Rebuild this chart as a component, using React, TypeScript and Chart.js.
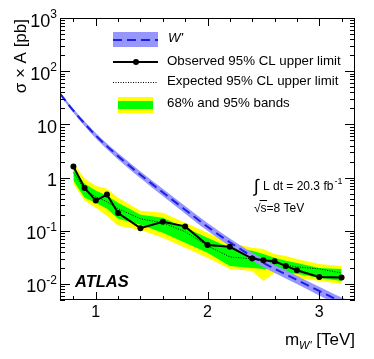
import React, { useEffect, useRef } from 'react';
import { Chart, registerables } from 'chart.js';
Chart.register(...registerables);

// ---- data ----
const massPoints = [0.8, 0.9, 1.0, 1.1, 1.2, 1.4, 1.6, 1.8, 2.0, 2.2, 2.4, 2.5, 2.6, 2.7, 2.8, 3.0, 3.2];
const observed = [1.61, 0.64, 0.37, 0.48, 0.216, 0.112, 0.148, 0.121, 0.054, 0.05, 0.03, 0.028, 0.0268, 0.0219, 0.0181, 0.0136, 0.0132];
const expected = [1.24, 0.594, 0.438, 0.352, 0.26, 0.168, 0.1416, 0.0958, 0.0521, 0.0323, 0.0296, 0.0284, 0.0249, 0.0228, 0.021, 0.0192, 0.0161];
const band68Up = [1.48, 0.77, 0.569, 0.457, 0.337, 0.2, 0.176, 0.114, 0.0738, 0.0478, 0.042, 0.0368, 0.031, 0.0272, 0.0249, 0.02, 0.0192];
const band68Down = [0.877, 0.42, 0.337, 0.26, 0.168, 0.13, 0.0917, 0.0594, 0.0385, 0.0219, 0.02, 0.0192, 0.0192, 0.0161, 0.0155, 0.013, 0.0114];
const band95Up = [1.84, 0.957, 0.706, 0.62, 0.42, 0.238, 0.219, 0.1416, 0.0917, 0.0594, 0.0478, 0.0457, 0.0368, 0.0337, 0.0296, 0.0238, 0.0219];
const band95Down = [0.77, 0.368, 0.272, 0.192, 0.124, 0.104, 0.0738, 0.0478, 0.031, 0.0192, 0.0176, 0.0114, 0.0161, 0.0142, 0.013, 0.0114, 0.01];

const theoryMass = [0.68, 0.8, 1.0, 1.25, 1.5, 1.75, 2.0, 2.25, 2.5, 2.75, 3.0, 3.2, 3.3];
const theory = [37.9, 18.1, 6.2, 2.05, 0.77, 0.3, 0.119, 0.052, 0.0249, 0.0135, 0.0074, 0.0046, 0.0038];
const theoryUp = [40.5, 19.6, 6.9, 2.35, 0.89, 0.35, 0.14, 0.061, 0.0295, 0.0161, 0.0089, 0.0056, 0.0047];
const theoryDown = [35.3, 16.6, 5.5, 1.78, 0.66, 0.255, 0.1, 0.044, 0.0208, 0.0112, 0.0061, 0.0037, 0.003];

const xMajorTicks = [1, 2, 3];
const xMinorTicks = [0.8, 1.2, 1.4, 1.6, 1.8, 2.2, 2.4, 2.6, 2.8, 3.2];
const yDecades = [-2, -1, 0, 1, 2, 3];
const yLabels = [
  { base: '10', exp: '-2' },
  { base: '10', exp: '-1' },
  { base: '1', exp: '' },
  { base: '10', exp: '' },
  { base: '10', exp: '2' },
  { base: '10', exp: '3' },
];

const FONT = '"Liberation Sans", Arial, Helvetica, sans-serif';
const BLUE = 'rgb(30,30,235)';
const BLUE_BAND = 'rgb(150,150,252)';
const YELLOW = '#ffff00';
const GREEN = '#00ff00';

const pts = (xs: number[], ys: number[]) => xs.map((x, i) => ({ x, y: ys[i] }));

const decorPlugin = {
  id: 'atlasDecor',
  afterDraw(chart: any) {
    const ctx: CanvasRenderingContext2D = chart.ctx;
    const { left, right, top, bottom } = chart.chartArea;
    const xs = chart.scales.x;
    const ys = chart.scales.y;
    ctx.save();
    // frame
    ctx.strokeStyle = '#000';
    ctx.lineWidth = 1;
    ctx.strokeRect(left + 0.5, top + 0.5, right - left - 1, bottom - top - 1);
    // x ticks
    ctx.beginPath();
    const xt = (v: number, len: number) => {
      const p = Math.round(xs.getPixelForValue(v)) + 0.5;
      ctx.moveTo(p, bottom);
      ctx.lineTo(p, bottom - len);
      ctx.moveTo(p, top);
      ctx.lineTo(p, top + len);
    };
    xMajorTicks.forEach((v) => xt(v, 8));
    xMinorTicks.forEach((v) => xt(v, 4));
    const yt = (v: number, len: number) => {
      const p = Math.round(ys.getPixelForValue(v)) + 0.5;
      if (p < top - 0.5 || p > bottom + 0.5) return;
      ctx.moveTo(left, p);
      ctx.lineTo(left + len, p);
      ctx.moveTo(right, p);
      ctx.lineTo(right - len, p);
    };
    for (let d = -3; d <= 3; d++) {
      yt(Math.pow(10, d), 10);
      for (let k = 2; k <= 9; k++) yt(k * Math.pow(10, d), 5);
    }
    ctx.stroke();

    // y labels
    ctx.fillStyle = '#000';
    yDecades.forEach((d, i) => {
      const p = ys.getPixelForValue(Math.pow(10, d));
      const lab = yLabels[i];
      ctx.font = `18px ${FONT}`;
      const bw = ctx.measureText(lab.base).width;
      let ew = 0;
      if (lab.exp) {
        ctx.font = `12px ${FONT}`;
        ew = ctx.measureText(lab.exp).width;
      }
      const xr = 57;
      ctx.textAlign = 'left';
      ctx.textBaseline = 'alphabetic';
      ctx.font = `18px ${FONT}`;
      ctx.fillText(lab.base, xr - ew - bw, p + 8.5);
      if (lab.exp) {
        ctx.font = `12px ${FONT}`;
        ctx.fillText(lab.exp, xr - ew, p + 0);
      }
    });
    // x labels
    ctx.font = `16px ${FONT}`;
    ctx.textAlign = 'center';
    ctx.textBaseline = 'alphabetic';
    xMajorTicks.forEach((v) => {
      ctx.fillText(String(v), xs.getPixelForValue(v), 317);
    });

    // x title: m_W' [TeV]
    {
      ctx.textAlign = 'left';
      ctx.font = `17px ${FONT}`;
      const w1 = ctx.measureText('m').width;
      const w3 = ctx.measureText(' [TeV]').width;
      ctx.font = `italic 11px ${FONT}`;
      const w2 = ctx.measureText("W'").width;
      let x0 = right - (w1 + w2 + w3);
      const yb = 345;
      ctx.font = `17px ${FONT}`;
      ctx.fillText('m', x0, yb);
      ctx.font = `italic 11px ${FONT}`;
      ctx.fillText("W'", x0 + w1, yb + 4);
      ctx.font = `17px ${FONT}`;
      ctx.fillText(' [TeV]', x0 + w1 + w2, yb);
    }
    // y title
    ctx.save();
    ctx.translate(25.5, 19);
    ctx.rotate(-Math.PI / 2);
    ctx.font = `17px ${FONT}`;
    ctx.textAlign = 'right';
    ctx.textBaseline = 'alphabetic';
    ctx.fillText('σ × A [pb]', 0, 0);
    ctx.restore();

    // legend
    ctx.textAlign = 'left';
    ctx.textBaseline = 'middle';
    // W'
    ctx.fillStyle = BLUE_BAND;
    ctx.fillRect(113, 32, 45, 15);
    ctx.strokeStyle = BLUE;
    ctx.lineWidth = 2;
    ctx.setLineDash([9, 5]);
    ctx.beginPath();
    ctx.moveTo(113, 40);
    ctx.lineTo(158, 40);
    ctx.stroke();
    ctx.setLineDash([]);
    ctx.fillStyle = '#000';
    ctx.font = `italic 13.3px ${FONT}`;
    ctx.fillText("W'", 168, 38);
    // observed
    ctx.strokeStyle = '#000';
    ctx.lineWidth = 2;
    ctx.beginPath();
    ctx.moveTo(113, 62);
    ctx.lineTo(158, 62);
    ctx.stroke();
    ctx.beginPath();
    ctx.arc(136, 62, 3, 0, Math.PI * 2);
    ctx.fill();
    ctx.font = `13.3px ${FONT}`;
    ctx.fillText('Observed 95% CL upper limit', 167, 61);
    // expected
    ctx.lineWidth = 1;
    ctx.setLineDash([1, 1.5]);
    ctx.beginPath();
    ctx.moveTo(113, 82.5);
    ctx.lineTo(158, 82.5);
    ctx.stroke();
    ctx.setLineDash([]);
    ctx.fillText('Expected 95% CL upper limit', 167, 81.5);
    // bands
    ctx.fillStyle = YELLOW;
    ctx.fillRect(118, 97, 35, 16);
    ctx.fillStyle = GREEN;
    ctx.fillRect(118, 101, 35, 8);
    ctx.fillStyle = '#000';
    ctx.fillText('68% and 95% bands', 167, 103.5);

    // luminosity annotation
    ctx.textBaseline = 'alphabetic';
    ctx.font = `18px ${FONT}`;
    ctx.fillText('∫', 254, 192);
    ctx.font = `12px ${FONT}`;
    const lumi = 'L dt = 20.3 fb';
    ctx.fillText(lumi, 263, 190);
    const lw = ctx.measureText(lumi).width;
    ctx.font = `9px ${FONT}`;
    ctx.fillText('-1', 263 + lw + 1, 184);
    // sqrt(s)
    ctx.font = `12px ${FONT}`;
    ctx.fillText('√', 254, 212);
    const rw = ctx.measureText('√').width;
    const sw = ctx.measureText('s').width;
    ctx.fillText('s=8 TeV', 254 + rw, 212);
    ctx.lineWidth = 1;
    ctx.beginPath();
    ctx.moveTo(254 + rw - 1, 200.5);
    ctx.lineTo(254 + rw + sw + 0.5, 200.5);
    ctx.stroke();

    // ATLAS
    ctx.font = `bold italic 16.5px ${FONT}`;
    ctx.fillText('ATLAS', 75, 287);
    ctx.restore();
  },
};

export default function App() {
  const ref = useRef<HTMLCanvasElement | null>(null);
  useEffect(() => {
    if (!ref.current) return;
    const hidden = { pointRadius: 0, borderWidth: 0, borderColor: 'transparent', tension: 0 };
    const chart = new Chart(ref.current, {
      type: 'line',
      data: {
        datasets: [
          { label: '95up', data: pts(massPoints, band95Up), fill: 1, backgroundColor: YELLOW, order: 10, ...hidden },
          { label: '95down', data: pts(massPoints, band95Down), fill: false, order: 10, ...hidden },
          { label: '68up', data: pts(massPoints, band68Up), fill: 3, backgroundColor: GREEN, order: 8, ...hidden },
          { label: '68down', data: pts(massPoints, band68Down), fill: false, order: 8, ...hidden },
          { label: 'thUp', data: pts(theoryMass, theoryUp), fill: 5, backgroundColor: BLUE_BAND, order: 6, ...hidden, cubicInterpolationMode: 'monotone' },
          { label: 'thDown', data: pts(theoryMass, theoryDown), fill: false, order: 6, ...hidden, cubicInterpolationMode: 'monotone' },
          {
            label: "W'",
            data: pts(theoryMass, theory),
            fill: false,
            borderColor: BLUE,
            borderWidth: 2,
            borderDash: [9, 5],
            pointRadius: 0,
            cubicInterpolationMode: 'monotone',
            order: 4,
          },
          {
            label: 'Expected',
            data: pts(massPoints, expected),
            fill: false,
            borderColor: '#000',
            borderWidth: 1,
            borderDash: [1, 1.5],
            pointRadius: 0,
            tension: 0,
            order: 2,
          },
          {
            label: 'Observed',
            data: pts(massPoints, observed),
            fill: false,
            borderColor: '#000',
            backgroundColor: '#000',
            borderWidth: 2,
            pointRadius: 3,
            pointBorderWidth: 0,
            pointBackgroundColor: '#000',
            tension: 0,
            order: 0,
          },
        ] as any,
      },
      options: {
        animation: false,
        responsive: false,
        devicePixelRatio: 1,
        layout: { padding: { top: 18, right: 19, left: 0, bottom: 0 } },
        plugins: { legend: { display: false }, tooltip: { enabled: false }, title: { display: false } },
        scales: {
          x: {
            type: 'linear',
            min: 0.68,
            max: 3.32,
            grid: { display: false },
            border: { display: false },
            ticks: { display: false },
            afterFit: (s: any) => {
              s.height = 59;
            },
          },
          y: {
            type: 'logarithmic',
            min: 0.005,
            max: 1000,
            grid: { display: false },
            border: { display: false },
            ticks: { display: false },
            afterFit: (s: any) => {
              s.width = 60;
            },
          },
        },
      } as any,
      plugins: [decorPlugin],
    });
    return () => chart.destroy();
  }, []);
  return (
    <div style={{ position: 'absolute', left: 0, top: 0, width: 374, height: 359, background: '#fff' }}>
      <canvas ref={ref} width={374} height={359} style={{ display: 'block' }} />
    </div>
  );
}
